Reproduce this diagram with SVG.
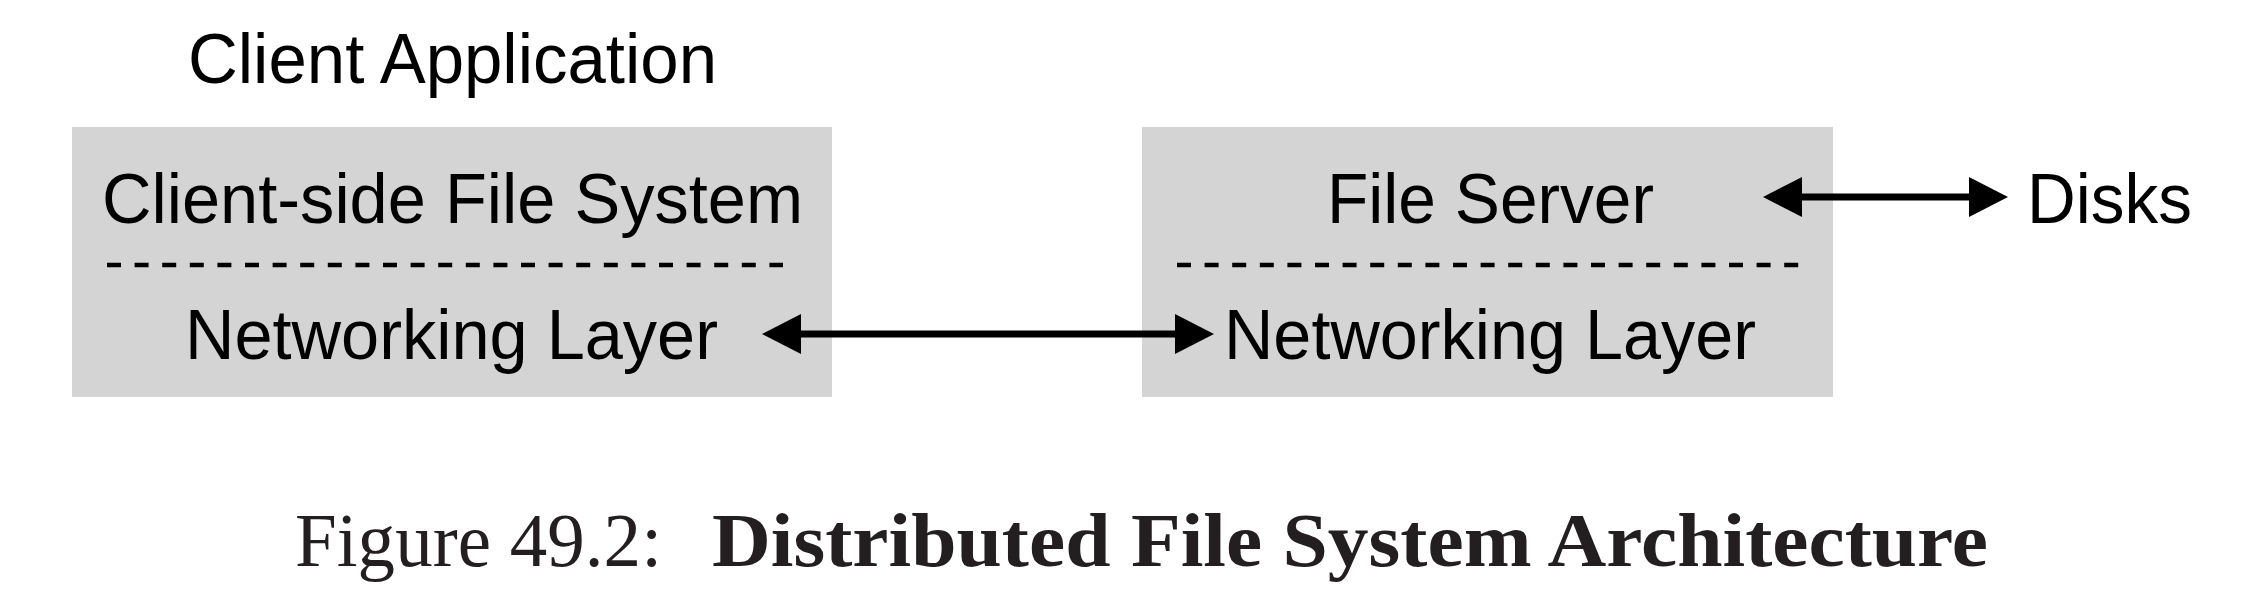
<svg xmlns="http://www.w3.org/2000/svg" width="2261" height="612" viewBox="0 0 2261 612">
<style>
.box{fill:#d4d4d4;}
.lbl{font-family:"Liberation Sans",Arial,Helvetica,sans-serif;font-size:71px;fill:#000;}
.dash{stroke:#000;stroke-width:4.5;stroke-dasharray:14 13.6;fill:none;}
.conn{stroke:#000;stroke-width:7;fill:none;}
.cap{font-family:"Liberation Serif","Times New Roman",serif;font-size:76px;fill:#231f20;}
</style>
<defs>
<marker id="ah" viewBox="0 0 39 40" refX="1" refY="20" markerWidth="39" markerHeight="40" markerUnits="userSpaceOnUse" orient="auto-start-reverse">
<path d="M0,0 L39,20 L0,40 Z" fill="#000"/>
</marker>
</defs>
<g id="client-app">
<text class="lbl" x="188" y="83" textLength="529" lengthAdjust="spacingAndGlyphs">Client Application</text>
</g>
<g id="client-box">
<rect class="box" x="72" y="127" width="760" height="270"/>
<text class="lbl" x="102" y="223" textLength="701" lengthAdjust="spacingAndGlyphs">Client-side File System</text>
<line class="dash" x1="107" y1="265" x2="783" y2="265"/>
<text class="lbl" x="185" y="359" textLength="533" lengthAdjust="spacingAndGlyphs">Networking Layer</text>
</g>
<g id="server-box">
<rect class="box" x="1142" y="127" width="691" height="270"/>
<text class="lbl" x="1327" y="223" textLength="327" lengthAdjust="spacingAndGlyphs">File Server</text>
<line class="dash" x1="1177" y1="265" x2="1799" y2="265"/>
<text class="lbl" x="1224" y="359" textLength="532" lengthAdjust="spacingAndGlyphs">Networking Layer</text>
</g>
<g id="disks">
<text class="lbl" x="2027" y="223" textLength="165" lengthAdjust="spacingAndGlyphs">Disks</text>
</g>
<g id="connectors">
<line class="conn" x1="800" y1="334" x2="1176" y2="334" marker-start="url(#ah)" marker-end="url(#ah)"/>
<line class="conn" x1="1801" y1="197" x2="1970" y2="197" marker-start="url(#ah)" marker-end="url(#ah)"/>
</g>
<g id="caption">
<text class="cap" x="295" y="566" textLength="367" lengthAdjust="spacingAndGlyphs">Figure 49.2:</text>
<text class="cap" x="712" y="566" font-weight="bold" textLength="1276" lengthAdjust="spacingAndGlyphs">Distributed File System Architecture</text>
</g>
</svg>
